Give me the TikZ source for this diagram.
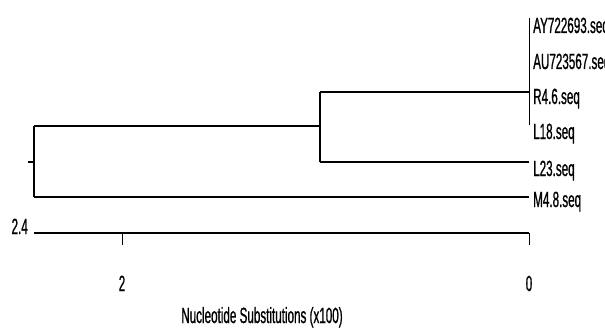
\documentclass[tikz,border=0pt]{standalone}
\usepackage{fontspec}
\setmainfont{Liberation Sans}[FakeStretch=0.53,FakeBold=0.8]
\begin{document}
\begin{tikzpicture}[x=1pt,y=-1pt,
  branch/.style={line width=1.8pt},
  vbranch/.style={line width=1.3pt},
  thin/.style={line width=0.9pt},
  axis/.style={line width=2.2pt},
  lbl/.style={anchor=base west,inner sep=0pt,font=\fontsize{22}{22}\selectfont},
  num/.style={inner sep=0pt,font=\fontsize{22}{22}\selectfont}]
\useasboundingbox (0,0) rectangle (605,329);
% coordinates
\coordinate (stub) at (28,162);
\coordinate (root) at (34,162);
\coordinate (rtop) at (34,126);
\coordinate (rbot) at (34,197);
\coordinate (inode) at (320,126);
\coordinate (itop) at (320,92);
\coordinate (ibot) at (320,162);
\coordinate (tjoin) at (529,92);
\coordinate (ttop) at (529,18);
\coordinate (tbot) at (529,125);
\coordinate (l23) at (529,162);
\coordinate (m48) at (529,197);
\coordinate (ax0) at (34,233);
\coordinate (ax1) at (529,233);
\coordinate (tk2) at (122,233);
\coordinate (tk2b) at (122,245);
\coordinate (tk0b) at (529,245);
% labels
\node[lbl] (AY) at (533,33) {AY722693.seq};
\node[lbl] (AU) at (533,69) {AU723567.seq};
\node[lbl] (R46) at (533,104) {R4.6.seq};
\node[lbl] (L18) at (533,139) {L18.seq};
\node[lbl] (L23) at (533,176) {L23.seq};
\node[lbl] (M48) at (533,207) {M4.8.seq};
\node[num,anchor=base east] (scale) at (28,234) {2.4};
\node[num,anchor=base] (n2) at (122,291) {2};
\node[num,anchor=base] (n0) at (529,291) {0};
\node[num,anchor=base] (title) at (262,323) {Nucleotide Substitutions (x100)};
% tree
\draw[vbranch] (stub) -- (root);
\draw[vbranch] (rtop) -- (rbot);
\draw[branch] (rtop) -- (inode);
\draw[vbranch] (itop) -- (ibot);
\draw[branch] (itop) -- (tjoin);
\draw[thin] (ttop) -- (tbot);
\draw[branch] (ibot) -- (l23);
\draw[branch] (rbot) -- (m48);
% axis
\draw[axis] (ax0) -- (ax1);
\draw[thin] (tk2) -- (tk2b);
\draw[thin] (ax1) -- (tk0b);
\end{tikzpicture}
\end{document}
